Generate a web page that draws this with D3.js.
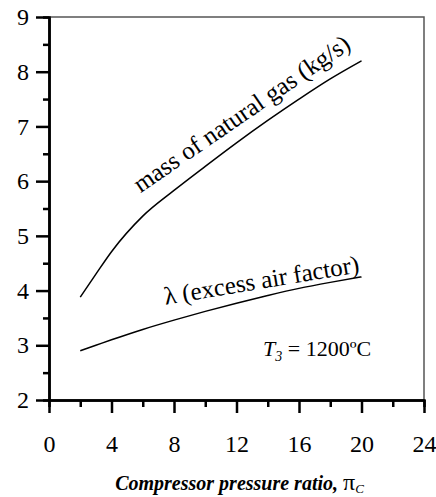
<!DOCTYPE html>
<html>
<head>
<meta charset="utf-8">
<script src="https://cdn.jsdelivr.net/npm/d3@7"></script>
<style>
  body { margin: 0; background: #fff; }
</style>
</head>
<body>
<svg width="436" height="497"></svg>
<script>
// pressure ratio values
const ratio = [2, 3, 4, 6, 8, 10, 12, 14, 16, 18, 20]
const massGas = [3.88, 4.3, 4.71, 5.36, 5.83, 6.27, 6.7, 7.11, 7.5, 7.87, 8.2]
const lambda = [2.9, 3.0, 3.1, 3.29, 3.46, 3.62, 3.77, 3.91, 4.04, 4.15, 4.25]
const xTicks = [0, 4, 8, 12, 16, 20, 24]
const xMinor = [2, 6, 10, 14, 18, 22]
const yTicks = [2, 3, 4, 5, 6, 7, 8, 9]
const yMinor = [2.5, 3.5, 4.5, 5.5, 6.5, 7.5, 8.5]

const serif = 'Liberation Serif'
const margin = {top: 17, right: 12, bottom: 97, left: 49}
const width = 436
const height = 497

const svg = d3.select('svg')

const x = d3.scaleLinear().domain([0, 24]).range([margin.left, width - margin.right])
const y = d3.scaleLinear().domain([2, 9]).range([height - margin.bottom, margin.top])

// frame: thin grey top and right
svg.append('path')
  .attr('d', `M${x(0)},${y(9)}H${x(24)}V${y(2)}`)
  .attr('fill', 'none')
  .attr('stroke', '#555')
  .attr('stroke-width', 1.5)

function styleAxis (g) {
  g.attr('font-family', serif).attr('font-size', 24)
  g.select('.domain').attr('stroke', '#000').attr('stroke-width', 2.5)
  g.selectAll('.tick line').attr('stroke', '#000').attr('stroke-width', 2.5)
  g.selectAll('.tick text').attr('fill', '#000')
}

// minor ticks first
svg.append('g')
  .attr('transform', `translate(0,${y(2)})`)
  .call(d3.axisBottom(x).tickValues(xMinor).tickSize(7).tickFormat(''))
  .call(styleAxis)

svg.append('g')
  .attr('transform', `translate(${x(0)},0)`)
  .call(d3.axisLeft(y).tickValues(yMinor).tickSize(6).tickFormat(''))
  .call(styleAxis)

svg.append('g')
  .attr('transform', `translate(0,${y(2)})`)
  .call(d3.axisBottom(x).tickValues(xTicks).tickSize(13).tickSizeOuter(0).tickPadding(22).tickFormat(d3.format('d')))
  .call(styleAxis)

svg.append('g')
  .attr('transform', `translate(${x(0)},0)`)
  .call(d3.axisLeft(y).tickValues(yTicks).tickSize(13).tickSizeOuter(0).tickPadding(7).tickFormat(d3.format('d')))
  .call(styleAxis)

// curves
const line = d3.line()
  .curve(d3.curveMonotoneX)
  .x((d, i) => x(ratio[i]))
  .y(d => y(d))

for (const series of [massGas, lambda]) {
  svg.append('path')
    .datum(series)
    .attr('d', line)
    .attr('fill', 'none')
    .attr('stroke', '#000')
    .attr('stroke-width', 1.5)
}

// curve labels
svg.append('text')
  .attr('transform', `translate(${x(5.85)},${y(5.78)}) rotate(-34.5)`)
  .attr('font-family', serif)
  .attr('font-size', 25)
  .text('mass of natural gas (kg/s)')

svg.append('text')
  .attr('transform', `translate(${x(7.45)},${y(3.74)}) rotate(-9.5)`)
  .attr('font-family', serif)
  .attr('font-size', 25)
  .text('λ (excess air factor)')

const t3 = svg.append('text')
  .attr('x', x(13.7))
  .attr('y', y(2.8))
  .attr('font-family', serif)
  .attr('font-size', 22)
t3.append('tspan').attr('font-style', 'italic').text('T')
t3.append('tspan').attr('font-style', 'italic').attr('font-size', 14).attr('dy', 5).text('3')
t3.append('tspan').attr('dy', -5).text(' = 1200ºC')

// x axis title
const title = svg.append('text')
  .attr('x', (x(0) + x(24)) / 2 + 3)
  .attr('y', 490)
  .attr('text-anchor', 'middle')
  .attr('font-family', serif)
  .attr('font-size', 20)
title.append('tspan').attr('font-weight', 'bold').attr('font-style', 'italic').text('Compressor pressure ratio, ')
title.append('tspan').attr('font-size', 24).text('π')
title.append('tspan').attr('font-style', 'italic').attr('font-size', 13).attr('dy', 3).text('C')
</script>
</body>
</html>
